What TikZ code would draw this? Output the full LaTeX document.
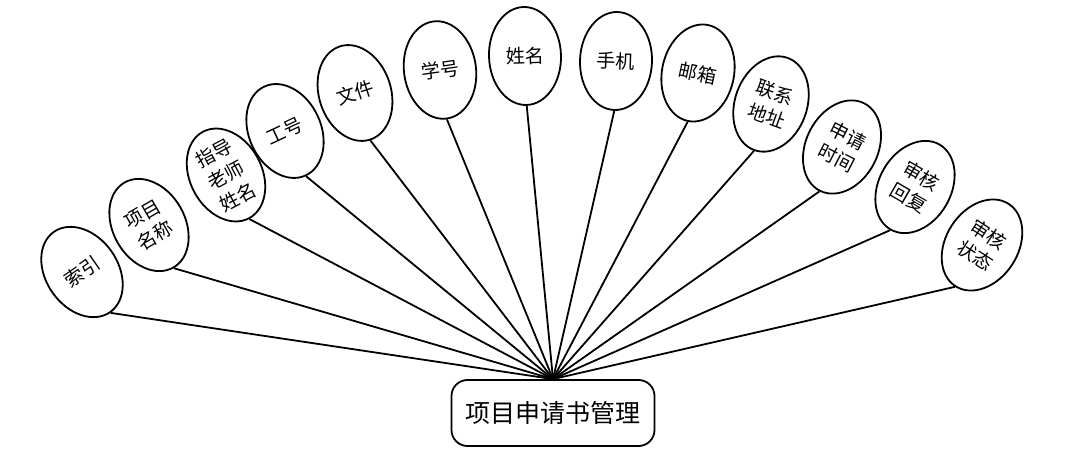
\documentclass[tikz,border=0pt]{standalone}
\usepackage{fontspec}
\setmainfont{Noto Sans CJK SC}
\usetikzlibrary{shapes.geometric}

\begin{document}
\begin{tikzpicture}[
    x=1pt, y=-1pt,
    attr/.style={
      ellipse, draw, line width=1.8pt,
      minimum width=72pt, minimum height=98pt, inner sep=0pt,
      align=center, font=\fontsize{19}{25}\selectfont
    },
    main/.style={
      rectangle, rounded corners=16pt, draw, line width=1.8pt,
      minimum width=203pt, minimum height=66pt,
      font=\fontsize{25}{30}\selectfont
    },
    link/.style={line width=1.8pt}
  ]
    \useasboundingbox (0,0) rectangle (1069,454);
    \node[main] (mgr) at (553,413) {项目申请书管理};

    \node[attr, rotate=35] (idx) at (82,272) {索引};
    \node[attr, rotate=30] (pname) at (149,225) {项目\\名称};
    \node[attr, rotate=28] (tname) at (226,175) {指导\\老师\\姓名};
    \node[attr, rotate=25] (tno) at (285,131) {工号};
    \node[attr, rotate=18] (file) at (355,93) {文件};
    \node[attr, rotate=8] (sno) at (440,70) {学号};
    \node[attr, rotate=2] (sname) at (525,56) {姓名};
    \node[attr, rotate=-2] (phone) at (616,61) {手机};
    \node[attr, rotate=-12] (mail) at (698,73) {邮箱};
    \node[attr, rotate=-20] (addr) at (771,104) {联系\\地址};
    \node[attr, rotate=-27] (atime) at (842,147) {申请\\时间};
    \node[attr, rotate=-30] (reply) at (915,187) {审核\\回复};
    \node[attr, rotate=-33] (state) at (982,245) {审核\\状态};

    \foreach \n in {idx,pname,tname,tno,file,sno,sname,phone,mail,addr,atime,reply,state}
      \draw[link] (\n.south) -- (mgr.north);
  \end{tikzpicture}
\end{document}
